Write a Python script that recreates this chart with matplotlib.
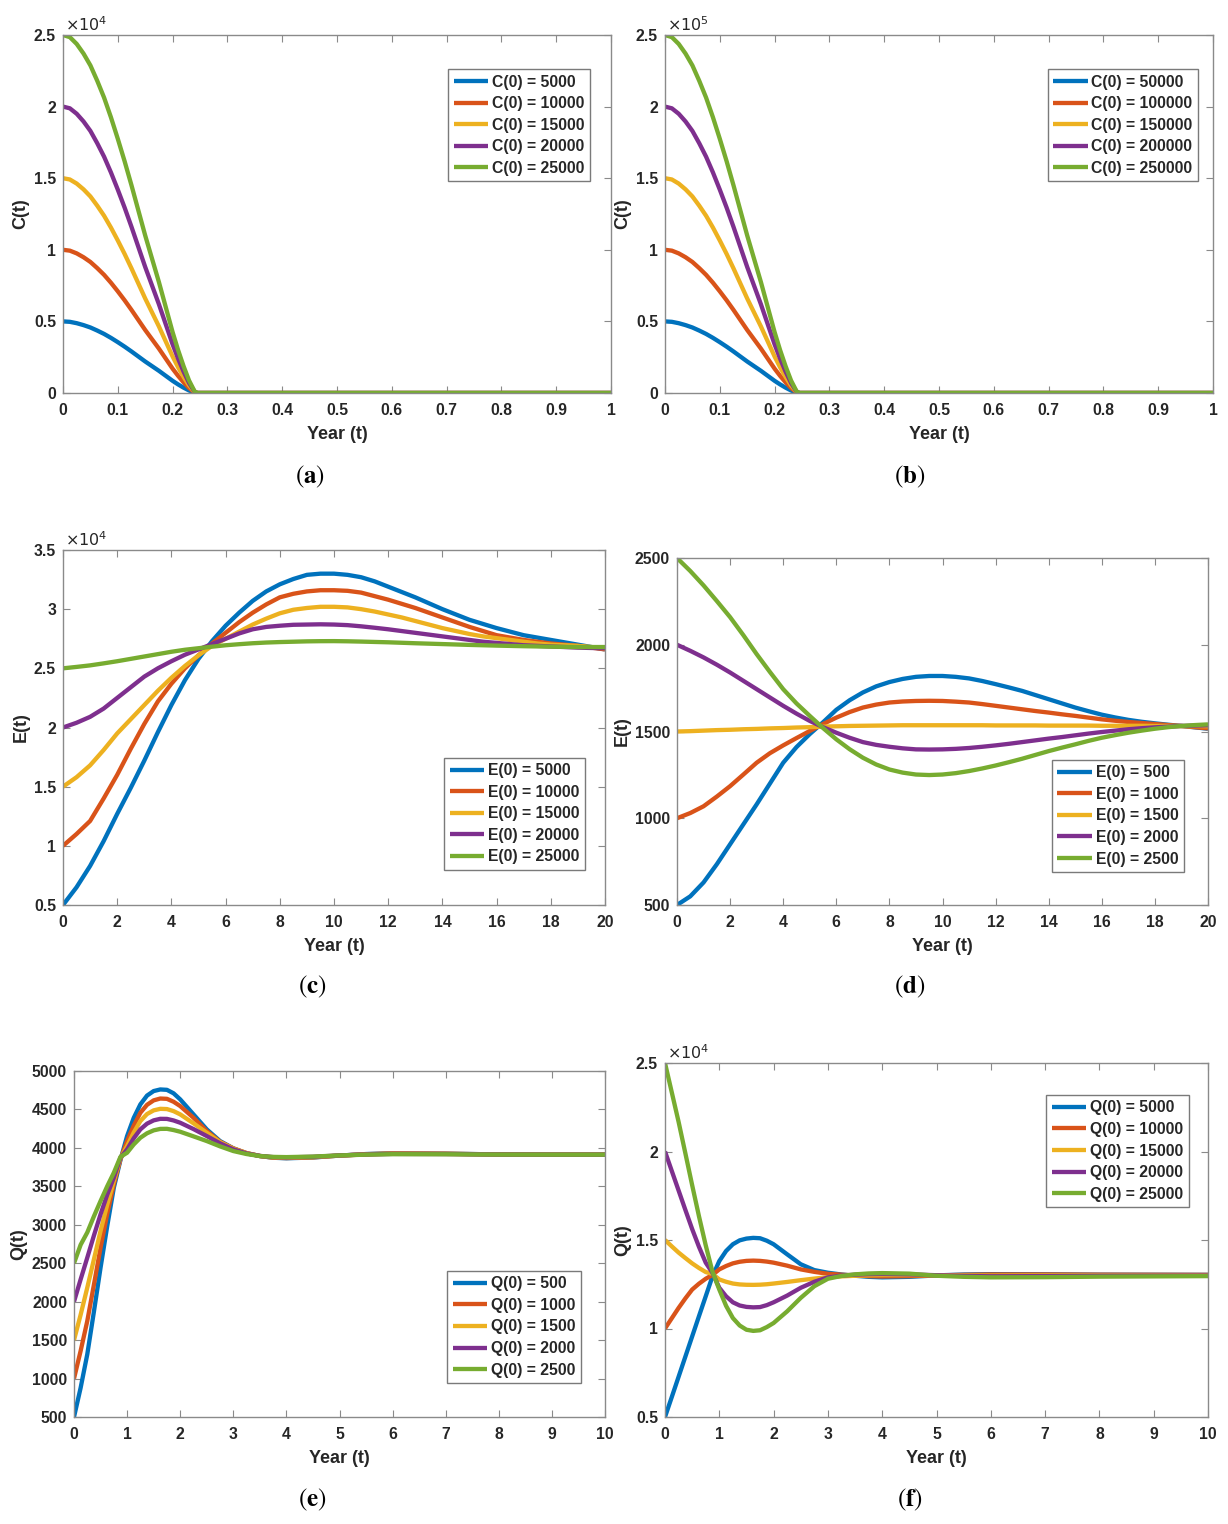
import numpy as np
import matplotlib
matplotlib.use("Agg")
import matplotlib.pyplot as plt
from matplotlib.ticker import FuncFormatter

plt.rcParams['font.family'] = ['Liberation Sans', 'DejaVu Sans']

COLORS = ['#0072BD', '#D95319', '#EDB120', '#7E2F8E', '#77AC30']

# ---------------- Panel (a) ----------------
t_a = [0, 0.0125, 0.025, 0.0375, 0.05, 0.0625, 0.075, 0.0875, 0.1, 0.1125, 0.125, 0.1375,
       0.15, 0.1625, 0.175, 0.1875, 0.2, 0.21, 0.22, 0.23, 0.24, 0.245, 0.25, 1.0]
a_5000 = [5000, 4970, 4875, 4740, 4575, 4360, 4125, 3850, 3550, 3235, 2900, 2550,
          2200, 1875, 1550, 1200, 850, 600, 375, 175, 25, 0, 0, 0]
a_10000 = [10000, 9940, 9750, 9480, 9150, 8720, 8250, 7700, 7100, 6470, 5800, 5100,
           4400, 3750, 3100, 2400, 1700, 1200, 750, 350, 50, 0, 0, 0]
a_15000 = [15000, 14910, 14625, 14220, 13725, 13080, 12375, 11550, 10650, 9705, 8700, 7650,
           6600, 5625, 4650, 3600, 2550, 1800, 1125, 525, 75, 0, 0, 0]
a_20000 = [20000, 19880, 19500, 18960, 18300, 17440, 16500, 15400, 14200, 12940, 11600, 10200,
           8800, 7500, 6200, 4800, 3400, 2400, 1500, 700, 100, 0, 0, 0]
a_25000 = [25000, 24850, 24375, 23700, 22875, 21800, 20625, 19250, 17750, 16175, 14500, 12750,
           11000, 9375, 7750, 6000, 4250, 3000, 1875, 875, 125, 0, 0, 0]
a_labels = ['C(0) = 5000', 'C(0) = 10000', 'C(0) = 15000', 'C(0) = 20000', 'C(0) = 25000']

# ---------------- Panel (b) ----------------
t_b = [0, 0.0125, 0.025, 0.0375, 0.05, 0.0625, 0.075, 0.0875, 0.1, 0.1125, 0.125, 0.1375,
       0.15, 0.1625, 0.175, 0.1875, 0.2, 0.21, 0.22, 0.23, 0.24, 0.245, 0.25, 1.0]
b_50000 = [50000, 49700, 48750, 47400, 45750, 43600, 41250, 38500, 35500, 32350, 29000, 25500,
           22000, 18750, 15500, 12000, 8500, 6000, 3750, 1750, 250, 0, 0, 0]
b_100000 = [100000, 99400, 97500, 94800, 91500, 87200, 82500, 77000, 71000, 64700, 58000, 51000,
            44000, 37500, 31000, 24000, 17000, 12000, 7500, 3500, 500, 0, 0, 0]
b_150000 = [150000, 149100, 146250, 142200, 137250, 130800, 123750, 115500, 106500, 97050, 87000, 76500,
            66000, 56250, 46500, 36000, 25500, 18000, 11250, 5250, 750, 0, 0, 0]
b_200000 = [200000, 198800, 195000, 189600, 183000, 174400, 165000, 154000, 142000, 129400, 116000, 102000,
            88000, 75000, 62000, 48000, 34000, 24000, 15000, 7000, 1000, 0, 0, 0]
b_250000 = [250000, 248500, 243750, 237000, 228750, 218000, 206250, 192500, 177500, 161750, 145000, 127500,
            110000, 93750, 77500, 60000, 42500, 30000, 18750, 8750, 1250, 0, 0, 0]
b_labels = ['C(0) = 50000', 'C(0) = 100000', 'C(0) = 150000', 'C(0) = 200000', 'C(0) = 250000']

# ---------------- Panel (c) ----------------
t_c = [0, 0.5, 1, 1.5, 2, 2.5, 3, 3.5, 4, 4.5, 5, 5.5, 6, 6.5, 7, 7.5, 8, 8.5, 9, 9.5, 10,
       10.5, 11, 11.5, 12, 12.5, 13, 13.5, 14, 14.5, 15, 15.5, 16, 16.5, 17, 17.5, 18, 18.5, 19, 19.5, 20]
c_5000 = [5000, 6500, 8300, 10400, 12700, 14900, 17200, 19600, 21900, 24000, 25800, 27300, 28600,
          29700, 30700, 31500, 32100, 32550, 32900, 33000, 33000, 32900, 32700, 32350, 31900, 31450,
          31000, 30500, 30000, 29550, 29100, 28750, 28400, 28100, 27800, 27600, 27400, 27200, 27000,
          26800, 26600]
c_10000 = [10000, 11000, 12100, 14000, 16000, 18200, 20300, 22200, 23700, 25000, 26100, 27100, 28000,
           28900, 29700, 30400, 31000, 31300, 31500, 31600, 31600, 31550, 31400, 31100, 30800, 30450,
           30100, 29700, 29300, 28900, 28500, 28150, 27800, 27600, 27400, 27250, 27100, 27000, 26900,
           26750, 26600]
c_15000 = [15000, 15800, 16800, 18100, 19500, 20700, 21900, 23100, 24200, 25200, 26100, 26900, 27500,
           28100, 28700, 29200, 29650, 29950, 30100, 30200, 30200, 30150, 30000, 29800, 29550, 29300,
           29000, 28700, 28400, 28150, 27900, 27700, 27550, 27400, 27250, 27100, 27000, 26950, 26900,
           26800, 26700]
c_20000 = [20000, 20400, 20900, 21600, 22500, 23400, 24300, 25000, 25600, 26150, 26600, 27050, 27500,
           27950, 28300, 28500, 28600, 28680, 28700, 28720, 28700, 28650, 28550, 28430, 28300, 28150,
           28000, 27850, 27700, 27550, 27400, 27250, 27150, 27050, 26950, 26900, 26850, 26800, 26750,
           26720, 26700]
c_25000 = [25000, 25120, 25250, 25420, 25600, 25800, 26000, 26200, 26400, 26570, 26700, 26830, 26950,
           27040, 27120, 27180, 27220, 27250, 27280, 27295, 27300, 27285, 27260, 27230, 27200, 27160,
           27120, 27085, 27050, 27015, 26980, 26950, 26920, 26895, 26870, 26850, 26830, 26815, 26800,
           26800, 26800]
c_labels = ['E(0) = 5000', 'E(0) = 10000', 'E(0) = 15000', 'E(0) = 20000', 'E(0) = 25000']

# ---------------- Panel (d) ----------------
t_d = [0, 0.5, 1, 1.5, 2, 2.5, 3, 3.5, 4, 4.5, 5, 5.5, 6, 6.5, 7, 7.5, 8, 8.5, 9, 9.5, 10,
       10.5, 11, 11.5, 12, 12.5, 13, 13.5, 14, 14.5, 15, 15.5, 16, 16.5, 17, 17.5, 18, 18.5, 19, 19.5, 20]
d_500 = [500, 550, 630, 735, 850, 965, 1080, 1200, 1320, 1410, 1485, 1553, 1625, 1680, 1725, 1760,
         1785, 1803, 1815, 1820, 1820, 1815, 1806, 1791, 1773, 1754, 1734, 1710, 1686, 1662, 1638,
         1617, 1597, 1581, 1567, 1556, 1547, 1539, 1532, 1524, 1516]
d_1000 = [1000, 1030, 1069, 1125, 1185, 1252, 1320, 1375, 1420, 1462, 1503, 1543, 1580, 1612, 1638,
          1655, 1667, 1673, 1676, 1677, 1676, 1672, 1667, 1658, 1648, 1638, 1628, 1618, 1609, 1599,
          1590, 1580, 1570, 1562, 1555, 1549, 1543, 1537, 1532, 1525, 1518]
d_1500 = [1500, 1502, 1505, 1508, 1510, 1513, 1515, 1518, 1520, 1523, 1525, 1528, 1530, 1532, 1533,
          1534, 1535, 1536, 1536, 1536, 1536, 1536, 1536, 1536, 1535, 1535, 1535, 1535, 1534, 1534,
          1534, 1534, 1533, 1533, 1533, 1533, 1532, 1532, 1531, 1531, 1530]
d_2000 = [2000, 1965, 1927, 1885, 1840, 1792, 1744, 1696, 1648, 1603, 1561, 1525, 1493, 1464, 1439,
          1423, 1412, 1403, 1397, 1396, 1397, 1400, 1405, 1412, 1420, 1429, 1439, 1449, 1459, 1468,
          1478, 1488, 1497, 1505, 1513, 1519, 1524, 1528, 1532, 1534, 1536]
d_2500 = [2500, 2425, 2342, 2252, 2159, 2055, 1946, 1843, 1744, 1662, 1590, 1520, 1455, 1398, 1349,
          1310, 1281, 1263, 1252, 1249, 1252, 1260, 1272, 1287, 1304, 1323, 1343, 1365, 1387, 1407,
          1426, 1446, 1464, 1479, 1493, 1505, 1516, 1525, 1532, 1537, 1541]
d_labels = ['E(0) = 500', 'E(0) = 1000', 'E(0) = 1500', 'E(0) = 2000', 'E(0) = 2500']

# ---------------- Panel (e) ----------------
t_e = [0, 0.125, 0.25, 0.375, 0.5, 0.625, 0.75, 0.875, 1, 1.125, 1.25, 1.375, 1.5, 1.625, 1.75,
       1.875, 2, 2.25, 2.5, 2.75, 3, 3.25, 3.5, 3.75, 4, 4.5, 5, 5.5, 6, 7, 8, 9, 10]
e_500 = [500, 880, 1315, 1870, 2442, 2980, 3482, 3843, 4154, 4390, 4566, 4680, 4739, 4760, 4755,
         4710, 4631, 4436, 4241, 4089, 3994, 3929, 3894, 3872, 3865, 3875, 3900, 3920, 3930, 3925,
         3915, 3912, 3912]
e_1000 = [1000, 1360, 1748, 2220, 2702, 3140, 3526, 3854, 4089, 4290, 4457, 4560, 4618, 4642, 4638,
          4600, 4544, 4392, 4219, 4080, 3994, 3933, 3894, 3873, 3868, 3877, 3900, 3918, 3928, 3924,
          3915, 3912, 3912]
e_1500 = [1500, 1830, 2182, 2550, 2919, 3260, 3569, 3865, 4024, 4200, 4349, 4440, 4488, 4508, 4505,
          4478, 4436, 4320, 4197, 4075, 3990, 3932, 3895, 3876, 3872, 3880, 3900, 3915, 3925, 3922,
          3914, 3912, 3912]
e_2000 = [2000, 2290, 2572, 2860, 3136, 3390, 3612, 3873, 3981, 4125, 4241, 4315, 4358, 4378, 4377,
          4357, 4327, 4245, 4154, 4060, 3981, 3928, 3896, 3880, 3876, 3884, 3902, 3914, 3922, 3920,
          3914, 3912, 3912]
e_2500 = [2500, 2740, 2900, 3110, 3309, 3500, 3677, 3884, 3937, 4045, 4132, 4190, 4228, 4247, 4248,
          4232, 4210, 4150, 4089, 4020, 3959, 3920, 3894, 3883, 3880, 3887, 3902, 3912, 3918, 3917,
          3913, 3912, 3912]
e_labels = ['Q(0) = 500', 'Q(0) = 1000', 'Q(0) = 1500', 'Q(0) = 2000', 'Q(0) = 2500']

# ---------------- Panel (f) ----------------
t_f = [0, 0.125, 0.25, 0.375, 0.5, 0.625, 0.75, 0.875, 1, 1.125, 1.25, 1.375, 1.5, 1.625, 1.75,
       1.875, 2, 2.25, 2.5, 2.75, 3, 3.25, 3.5, 3.75, 4, 4.5, 5, 5.5, 6, 7, 8, 10]
f_5000 = [5000, 6130, 7270, 8410, 9550, 10690, 11820, 12955, 13810, 14380, 14760, 14980, 15080, 15120,
          15100, 14960, 14760, 14190, 13630, 13300, 13150, 13050, 12980, 12920, 12890, 12920, 13000,
          13050, 13070, 13060, 13040, 13030]
f_10000 = [10000, 10580, 11160, 11700, 12200, 12530, 12810, 13030, 13340, 13530, 13680, 13770, 13820,
           13835, 13820, 13780, 13720, 13550, 13340, 13200, 13090, 13040, 13000, 12960, 12940, 12960,
           13000, 13030, 13050, 13050, 13040, 13030]
f_15000 = [15000, 14640, 14290, 13980, 13680, 13420, 13190, 13085, 12770, 12640, 12540, 12490, 12470,
           12465, 12475, 12500, 12540, 12630, 12730, 12820, 12900, 12945, 12980, 13005, 13020, 13020,
           13010, 13000, 12990, 13000, 13010, 13010]
f_20000 = [20000, 18900, 17800, 16700, 15620, 14620, 13720, 13140, 12300, 11820, 11480, 11300, 11220,
           11195, 11210, 11320, 11480, 11860, 12300, 12640, 12890, 12990, 13040, 13070, 13080, 13060,
           13010, 12970, 12950, 12960, 12980, 12990]
f_25000 = [25000, 23340, 21680, 19900, 18100, 16350, 14700, 13195, 12200, 11280, 10590, 10170, 9930,
           9865, 9900, 10080, 10310, 10970, 11730, 12390, 12810, 12970, 13060, 13110, 13130, 13100,
           12980, 12920, 12890, 12900, 12930, 12960]
f_labels = ['Q(0) = 5000', 'Q(0) = 10000', 'Q(0) = 15000', 'Q(0) = 20000', 'Q(0) = 25000']

# tick definitions
xt_a = [0, 0.1, 0.2, 0.3, 0.4, 0.5, 0.6, 0.7, 0.8, 0.9, 1]
yt_a = [0, 5000, 10000, 15000, 20000, 25000]
yt_b = [0, 50000, 100000, 150000, 200000, 250000]
xt_c = [0, 2, 4, 6, 8, 10, 12, 14, 16, 18, 20]
yt_c = [5000, 10000, 15000, 20000, 25000, 30000, 35000]
yt_d = [500, 1000, 1500, 2000, 2500]
xt_e = [0, 1, 2, 3, 4, 5, 6, 7, 8, 9, 10]
yt_e = [500, 1000, 1500, 2000, 2500, 3000, 3500, 4000, 4500, 5000]
yt_f = [5000, 10000, 15000, 20000, 25000]

W, H = 1228, 1524
fig = plt.figure(figsize=(W / 100, H / 100), dpi=100)


def px_axes(x0, x1, y0, y1):
    return fig.add_axes([x0 / W, 1 - y1 / H, (x1 - x0) / W, (y1 - y0) / H])


SPINE = '#8a8a8a'
TXT = '#262626'


def make_panel(rect, t, series, labels, xticks, yticks, ylabel, ylim, scale,
               leg_loc, leg_anchor, caption, cap_xy):
    ax = px_axes(*rect)
    for s, c, lab in zip(series, COLORS, labels):
        ax.plot(t, s, color=c, lw=3.1, label=lab, solid_capstyle='butt', solid_joinstyle='round')
    ax.set_xlim(xticks[0], xticks[-1])
    ax.set_ylim(*ylim)
    ax.set_xticks(xticks)
    ax.set_yticks(yticks)
    ax.xaxis.set_major_formatter(FuncFormatter(lambda v, p: f"{v:g}"))
    if scale:
        ax.yaxis.set_major_formatter(FuncFormatter(lambda v, p: f"{v / scale:g}"))
        exp = int(round(np.log10(scale)))
        ax.text(0.003, 1.004, r'$\times10^{%d}$' % exp, transform=ax.transAxes,
                fontsize=11.5, fontweight='normal', color=TXT, ha='left', va='bottom',
                math_fontfamily='dejavusans')
    else:
        ax.yaxis.set_major_formatter(FuncFormatter(lambda v, p: f"{v:g}"))
    ax.tick_params(direction='in', top=True, right=True, length=5, width=0.8,
                   color=SPINE, labelsize=11.3, labelcolor=TXT)
    ax.tick_params(axis='x', pad=7)
    ax.tick_params(axis='y', pad=5)
    for lab in ax.get_xticklabels() + ax.get_yticklabels():
        lab.set_fontweight('bold')
    for sp in ax.spines.values():
        sp.set_color(SPINE)
        sp.set_linewidth(1.0)
    ax.set_xlabel('Year (t)', fontsize=13, fontweight='bold', color=TXT, labelpad=6)
    ax.set_ylabel(ylabel, fontsize=13, fontweight='bold', color=TXT, labelpad=3)
    leg = ax.legend(loc=leg_loc, bbox_to_anchor=leg_anchor, fontsize=11.3, frameon=True,
                    fancybox=False, framealpha=1, edgecolor='#7a7a7a', handlelength=2.2,
                    handletextpad=0.25, labelspacing=0.42, borderpad=0.35, borderaxespad=0)
    leg.get_frame().set_linewidth(1.0)
    for txt in leg.get_texts():
        txt.set_fontweight('bold')
        txt.set_color(TXT)
    fig.text(cap_xy[0] / W, 1 - cap_xy[1] / H, r'$(\mathbf{%s})$' % caption,
             fontsize=18, ha='center', va='center', math_fontfamily='stix', color='black')
    return ax


make_panel((63, 611, 35, 393), t_a, [a_5000, a_10000, a_15000, a_20000, a_25000], a_labels,
           xt_a, yt_a, 'C(t)', (0, 25000), 1e4, 'upper right', (0.962, 0.905), 'a', (310, 477))
make_panel((665, 1213, 35, 393), t_b, [b_50000, b_100000, b_150000, b_200000, b_250000], b_labels,
           xt_a, yt_b, 'C(t)', (0, 250000), 1e5, 'upper right', (0.973, 0.905), 'b', (910, 477))
make_panel((63, 605, 550, 905), t_c, [c_5000, c_10000, c_15000, c_20000, c_25000], c_labels,
           xt_c, yt_c, 'E(t)', (5000, 35000), 1e4, 'lower right', (0.963, 0.099), 'c', (312, 987))
make_panel((677, 1208, 558, 905), t_d, [d_500, d_1000, d_1500, d_2000, d_2500], d_labels,
           xt_c, yt_d, 'E(t)', (500, 2500), None, 'lower right', (0.955, 0.095), 'd', (910, 987))
make_panel((74, 605, 1071, 1417), t_e, [e_500, e_1000, e_1500, e_2000, e_2500], e_labels,
           xt_e, yt_e, 'Q(t)', (500, 5000), None, 'lower right', (0.955, 0.098), 'e', (312, 1500))
make_panel((665, 1208, 1063, 1417), t_f, [f_5000, f_10000, f_15000, f_20000, f_25000], f_labels,
           xt_e, yt_f, 'Q(t)', (5000, 25000), 1e4, 'upper right', (0.965, 0.910), 'f', (910, 1500))

fig.savefig('out.png', dpi=100, facecolor='white')
